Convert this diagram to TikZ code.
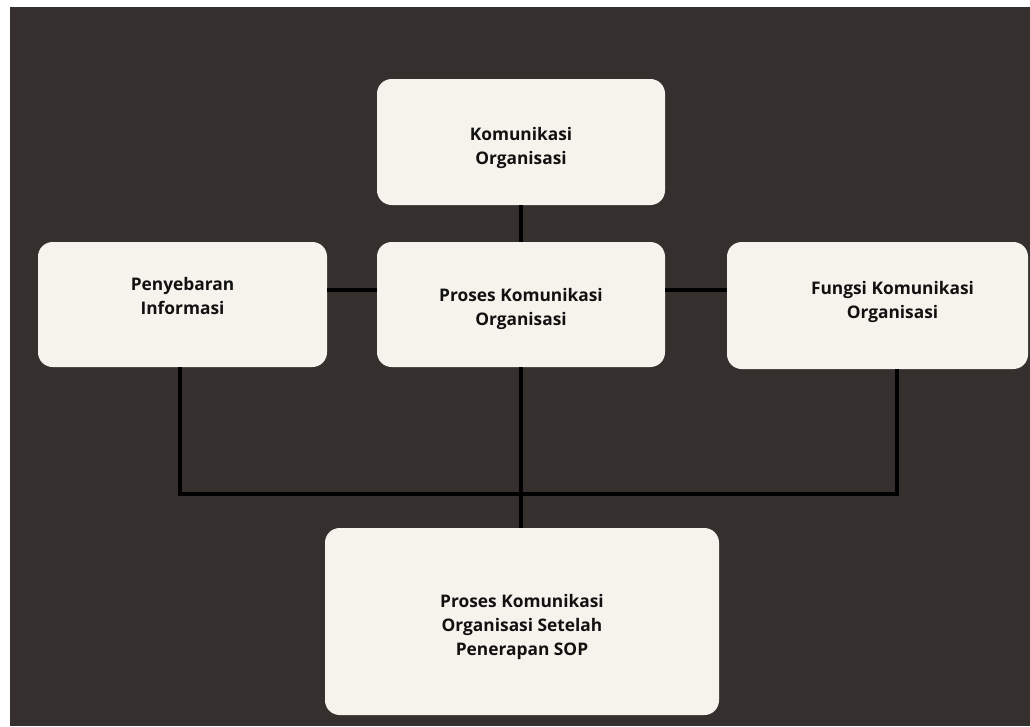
\documentclass[tikz,border=0pt]{standalone}
\usepackage{fontspec}
\newfontfamily\boxfont{Open Sans}
\usetikzlibrary{positioning,calc}
\definecolor{bgdark}{HTML}{35302D}
\definecolor{boxcream}{HTML}{F6F3EC}
\definecolor{inkdark}{HTML}{111111}
\begin{document}
\begin{tikzpicture}[x=0.75pt,y=-0.75pt,
	box/.style={fill=boxcream,rounded corners=11pt,inner sep=0pt},
	txt/.style={inner sep=0pt,align=center,text=inkdark,
		font=\boxfont\bfseries\fontsize{13}{18}\selectfont},
	conn/.style={line width=3pt,black,line join=miter}]
		\useasboundingbox (0,0) rectangle (1030,726);
		\fill[white] (0,0) rectangle (1030,726);
		\fill[bgdark] (10,7) rectangle (1030,726);
		\node[box,minimum width=216pt,minimum height=94.5pt] (kom) at (521,142) {};
		\node[box,minimum width=216.75pt,minimum height=93.75pt] (pen) at (182.5,304.5) {};
		\node[box,minimum width=216pt,minimum height=93.75pt] (pro) at (521,304.5) {};
		\node[box,minimum width=225.75pt,minimum height=95.25pt] (fun) at (877.5,305.5) {};
		\node[box,minimum width=295.5pt,minimum height=140.25pt] (sop) at (522,621.5) {};
		\node[txt] (kom-t) at ($(kom)+(0,6)$) {Komunikasi\\Organisasi};
		\node[txt] (pen-t) at ($(pen)+(0,-9)$) {Penyebaran\\Informasi};
		\node[txt] (pro-t) at ($(pro)+(0,4)$) {Proses Komunikasi\\Organisasi};
		\node[txt] (fun-t) at ($(fun)+(15,-4)$) {Fungsi Komunikasi\\Organisasi};
		\node[txt] (sop-t) at ($(sop)+(0,5)$) {Proses Komunikasi\\Organisasi Setelah\\Penerapan SOP};
		\coordinate (mid) at (0,290);
		\coordinate (busl) at (180,494);
		\coordinate (busr) at (897,494);
		\draw[conn] (kom.south) -- (pro.north);
		\draw[conn] (pen.east |- mid) -- (pro.west |- mid);
		\draw[conn] (pro.east |- mid) -- (fun.west |- mid);
		\draw[conn] (busl |- pen.south) -- (busl) -- (busr) -- (busr |- fun.south);
		\draw[conn] (pro.south) -- (pro.south |- sop.north);
\end{tikzpicture}
\end{document}
